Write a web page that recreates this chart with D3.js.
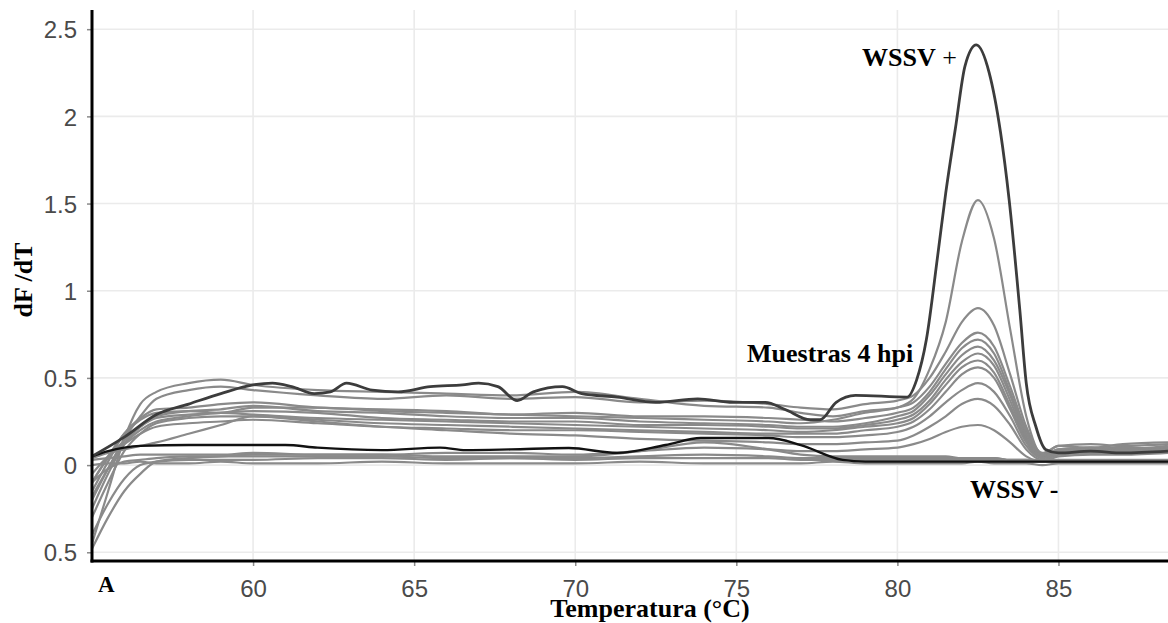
<!DOCTYPE html>
<html>
<head>
<meta charset="utf-8">
<script src="https://cdn.jsdelivr.net/npm/d3@7"></script>
<style>
  html, body { margin: 0; padding: 0; background: #ffffff; }
  svg { display: block; }
</style>
</head>
<body>
<svg id="chart" width="1168" height="623"></svg>
<script>
// ---------- DATA ----------
const xTicks = [60, 65, 70, 75, 80, 85];
const xTickLabels = ["60", "65", "70", "75", "80", "85"];
const yTicks = [-0.5, 0, 0.5, 1, 1.5, 2, 2.5];
const yTickLabels = ["0.5", "0", "0.5", "1", "1.5", "2", "2.5"];

const xTitle = "Temperatura (°C)";
const yTitle = "dF /dT";
const panelLabel = "A";
const labelPositive = "WSSV";
const labelSamples = "Muestras 4 hpi";
const labelNegative = "WSSV -";

// WSSV + (positive control)
const posTemps = [55, 56, 57, 58, 59, 60, 60.6, 61.2, 61.9, 62.4, 62.9, 63.7, 64.5, 65.5, 66.5, 67, 67.6, 68.2, 68.7, 69.6, 70.2, 71.3, 72.5, 73.8, 74.9, 75.9, 76.5, 77.3, 77.6, 78.1, 78.7, 80.3, 80.6, 80.9, 81.25, 81.5, 81.8, 82.1, 82.45, 82.85, 83.2, 83.47, 83.8, 84.0, 84.3, 84.6, 85, 86, 87, 88.4];
const posValues = [0.05, 0.16, 0.29, 0.35, 0.41, 0.46, 0.47, 0.45, 0.41, 0.42, 0.47, 0.43, 0.42, 0.45, 0.46, 0.47, 0.45, 0.37, 0.42, 0.45, 0.41, 0.39, 0.36, 0.38, 0.36, 0.36, 0.32, 0.26, 0.26, 0.36, 0.40, 0.39, 0.49, 0.72, 1.20, 1.56, 1.93, 2.29, 2.41, 2.25, 1.91, 1.52, 0.89, 0.47, 0.22, 0.09, 0.07, 0.08, 0.07, 0.08];

// WSSV - (negative control)
const negTemps = [55, 55.5, 56, 56.5, 58, 60, 61, 62, 64, 65.8, 66.6, 68, 69.8, 71.3, 72.8, 73.9, 75, 76, 77, 78.3, 79, 80, 82, 84, 86, 88.4];
const negValues = [0.05, 0.08, 0.10, 0.11, 0.115, 0.115, 0.115, 0.10, 0.086, 0.10, 0.086, 0.09, 0.098, 0.07, 0.115, 0.155, 0.155, 0.155, 0.115, 0.03, 0.02, 0.02, 0.02, 0.02, 0.02, 0.02];

// Samples 4 hpi (gray curves), shared temperature grid
const sampleTemps = [55, 55.5, 56, 56.5, 57, 58, 59, 60, 62, 64, 66, 68, 70, 72, 74, 76, 77, 78, 79, 80, 80.5, 81, 81.5, 82, 82.5, 83, 83.5, 84, 84.5, 85, 86, 87, 88.4];
const sample1 = [-0.10, 0.05, 0.18, 0.26, 0.30, 0.31, 0.30, 0.33, 0.33, 0.31, 0.30, 0.29, 0.28, 0.27, 0.26, 0.25, 0.24, 0.26, 0.30, 0.33, 0.38, 0.55, 0.82, 1.28, 1.52, 1.30, 0.78, 0.28, 0.06, 0.11, 0.10, 0.12, 0.13];
const sample2 = [-0.20, -0.02, 0.15, 0.28, 0.38, 0.43, 0.45, 0.43, 0.40, 0.38, 0.40, 0.38, 0.39, 0.36, 0.37, 0.35, 0.33, 0.32, 0.35, 0.37, 0.40, 0.50, 0.65, 0.82, 0.90, 0.80, 0.52, 0.22, 0.07, 0.11, 0.12, 0.11, 0.12];
const sample3 = [-0.45, -0.15, 0.15, 0.35, 0.42, 0.47, 0.49, 0.46, 0.43, 0.42, 0.41, 0.40, 0.42, 0.38, 0.34, 0.33, 0.30, 0.28, 0.31, 0.33, 0.36, 0.45, 0.58, 0.70, 0.76, 0.68, 0.45, 0.20, 0.06, 0.09, 0.10, 0.09, 0.10];
const sample4 = [-0.15, 0.02, 0.18, 0.27, 0.32, 0.33, 0.35, 0.36, 0.33, 0.32, 0.31, 0.29, 0.30, 0.28, 0.28, 0.27, 0.26, 0.25, 0.27, 0.30, 0.33, 0.42, 0.55, 0.67, 0.72, 0.64, 0.42, 0.18, 0.05, 0.08, 0.09, 0.10, 0.09];
const sample5 = [-0.25, -0.05, 0.12, 0.22, 0.28, 0.31, 0.32, 0.34, 0.31, 0.30, 0.28, 0.27, 0.27, 0.25, 0.24, 0.23, 0.22, 0.22, 0.24, 0.28, 0.31, 0.40, 0.52, 0.63, 0.68, 0.60, 0.40, 0.16, 0.05, 0.08, 0.08, 0.09, 0.10];
const sample6 = [-0.10, 0.04, 0.14, 0.22, 0.27, 0.29, 0.30, 0.31, 0.30, 0.27, 0.26, 0.25, 0.25, 0.23, 0.23, 0.22, 0.21, 0.21, 0.23, 0.26, 0.29, 0.37, 0.49, 0.59, 0.64, 0.57, 0.37, 0.15, 0.05, 0.09, 0.10, 0.09, 0.11];
const sample7 = [-0.18, -0.02, 0.12, 0.20, 0.25, 0.28, 0.30, 0.29, 0.27, 0.26, 0.25, 0.24, 0.23, 0.22, 0.21, 0.20, 0.19, 0.20, 0.22, 0.24, 0.27, 0.35, 0.46, 0.56, 0.60, 0.53, 0.34, 0.14, 0.04, 0.08, 0.09, 0.08, 0.09];
const sample8 = [-0.30, -0.10, 0.08, 0.18, 0.24, 0.27, 0.28, 0.28, 0.26, 0.24, 0.23, 0.22, 0.21, 0.20, 0.19, 0.18, 0.18, 0.18, 0.20, 0.22, 0.25, 0.32, 0.42, 0.52, 0.56, 0.50, 0.32, 0.13, 0.04, 0.07, 0.08, 0.08, 0.09];
const sample9 = [-0.05, 0.05, 0.12, 0.18, 0.22, 0.24, 0.25, 0.26, 0.24, 0.22, 0.21, 0.20, 0.20, 0.19, 0.18, 0.17, 0.16, 0.16, 0.17, 0.19, 0.22, 0.28, 0.36, 0.43, 0.47, 0.42, 0.28, 0.11, 0.04, 0.07, 0.07, 0.08, 0.08];
const sample10 = [0.04, 0.07, 0.09, 0.11, 0.13, 0.18, 0.23, 0.28, 0.25, 0.22, 0.20, 0.18, 0.17, 0.15, 0.14, 0.13, 0.12, 0.12, 0.13, 0.14, 0.17, 0.22, 0.28, 0.35, 0.38, 0.34, 0.23, 0.09, 0.03, 0.06, 0.07, 0.07, 0.08];
const sample11 = [-0.48, -0.30, -0.15, -0.05, 0.02, 0.04, 0.05, 0.06, 0.06, 0.06, 0.07, 0.07, 0.06, 0.08, 0.10, 0.09, 0.08, 0.08, 0.09, 0.10, 0.12, 0.15, 0.19, 0.22, 0.23, 0.20, 0.13, 0.05, 0.02, 0.05, 0.06, 0.06, 0.07];
const sample12 = [-0.40, -0.22, -0.08, 0.00, 0.02, 0.03, 0.03, 0.03, 0.04, 0.04, 0.03, 0.04, 0.04, 0.05, 0.06, 0.05, 0.04, 0.04, 0.04, 0.04, 0.04, 0.04, 0.04, 0.04, 0.04, 0.04, 0.03, 0.03, 0.03, 0.03, 0.03, 0.03, 0.03];
const sample13 = [0.03, 0.04, 0.05, 0.06, 0.06, 0.06, 0.06, 0.07, 0.06, 0.06, 0.05, 0.05, 0.05, 0.08, 0.13, 0.09, 0.06, 0.05, 0.05, 0.05, 0.05, 0.05, 0.05, 0.04, 0.04, 0.04, 0.03, 0.03, 0.02, 0.02, 0.02, 0.02, 0.02];
const sample14 = [0.00, 0.01, 0.01, 0.02, 0.01, 0.01, 0.02, 0.01, 0.01, 0.02, 0.01, 0.01, 0.01, 0.02, 0.01, 0.01, 0.01, 0.02, 0.01, 0.01, 0.01, 0.01, 0.01, 0.01, 0.02, 0.01, 0.01, 0.01, 0.00, 0.01, 0.01, 0.01, 0.01];
const sample15 = [-0.10, -0.02, 0.02, 0.03, 0.04, 0.05, 0.05, 0.05, 0.05, 0.05, 0.04, 0.04, 0.03, 0.04, 0.04, 0.04, 0.03, 0.03, 0.03, 0.03, 0.03, 0.03, 0.03, 0.03, 0.03, 0.03, 0.02, 0.02, 0.02, 0.02, 0.02, 0.02, 0.02];

const sampleSeries = [sample1, sample2, sample3, sample4, sample5, sample6, sample7, sample8,
                      sample9, sample10, sample11, sample12, sample13, sample14, sample15];

// ---------- LAYOUT ----------
const svg = d3.select("#chart");
const plotLeft = 92, plotRight = 1168, plotTop = 10, plotBottom = 561;

const x = d3.scaleLinear().domain([55, 88.4]).range([plotLeft, plotRight]);
const y = d3.scaleLinear().domain([-0.55, 2.61]).range([plotBottom, plotTop]);

svg.append("rect").attr("x", 0).attr("y", 0).attr("width", 1168).attr("height", 623).attr("fill", "#ffffff");

// grid
const grid = svg.append("g");
grid.selectAll("line.h").data(yTicks).join("line")
  .attr("x1", plotLeft).attr("x2", plotRight)
  .attr("y1", d => y(d)).attr("y2", d => y(d))
  .attr("stroke", "#ebebeb").attr("stroke-width", 1.6);
grid.selectAll("line.v").data(xTicks).join("line")
  .attr("x1", d => x(d)).attr("x2", d => x(d))
  .attr("y1", plotTop).attr("y2", plotBottom)
  .attr("stroke", "#ebebeb").attr("stroke-width", 1.6);

// clip
svg.append("clipPath").attr("id", "plotclip").append("rect")
  .attr("x", plotLeft).attr("y", plotTop).attr("width", plotRight - plotLeft).attr("height", plotBottom - plotTop);

const line = d3.line().curve(d3.curveMonotoneX);
const curves = svg.append("g").attr("clip-path", "url(#plotclip)");

sampleSeries.forEach(vals => {
  curves.append("path")
    .attr("d", line(sampleTemps.map((t, i) => [x(t), y(vals[i])])))
    .attr("fill", "none").attr("stroke", "#8a8a8a").attr("stroke-width", 2.2);
});

curves.append("path")
  .attr("d", line(negTemps.map((t, i) => [x(t), y(negValues[i])])))
  .attr("fill", "none").attr("stroke", "#111111").attr("stroke-width", 2.4);

curves.append("path")
  .attr("d", line(posTemps.map((t, i) => [x(t), y(posValues[i])])))
  .attr("fill", "none").attr("stroke", "#3c3c3c").attr("stroke-width", 2.8);

// axes
const tickFont = "'Liberation Sans', Arial, sans-serif";
const yAxis = svg.append("g").attr("transform", `translate(${plotLeft},0)`)
  .call(d3.axisLeft(y).tickValues(yTicks).tickFormat((d, i) => yTickLabels[i]).tickSize(5).tickPadding(10));
const xAxis = svg.append("g").attr("transform", `translate(0,${plotBottom})`)
  .call(d3.axisBottom(x).tickValues(xTicks).tickFormat((d, i) => xTickLabels[i]).tickSize(5).tickPadding(14));

[yAxis, xAxis].forEach(a => {
  a.select(".domain").remove();
  a.selectAll(".tick line").attr("stroke", "#8a8a8a").attr("stroke-width", 1.5);
  a.selectAll(".tick text").attr("fill", "#4a4a4a").style("font-family", tickFont).style("font-size", "24px");
});
yAxis.selectAll(".tick text").attr("dy", "0.36em");

// axis lines
svg.append("line").attr("x1", plotLeft).attr("x2", plotLeft).attr("y1", plotTop).attr("y2", plotBottom + 1.5)
  .attr("stroke", "#000").attr("stroke-width", 3);
svg.append("line").attr("x1", plotLeft - 1.5).attr("x2", plotRight).attr("y1", plotBottom).attr("y2", plotBottom)
  .attr("stroke", "#000").attr("stroke-width", 3);

// annotations
const serif = "'Liberation Serif', 'Times New Roman', serif";
function label(txt, xx, yy, size, anchor) {
  return svg.append("text").attr("x", xx).attr("y", yy).attr("text-anchor", anchor || "start")
    .style("font-family", serif).style("font-weight", "bold").style("font-size", size + "px")
    .attr("fill", "#000").text(txt);
}
const pos = label(labelPositive, 862, 66, 26);
pos.append("tspan").style("font-weight", "normal").text(" +");
label(labelSamples, 747, 362, 26);
label(labelNegative, 970, 498, 26);
label(xTitle, 650, 617, 26, "middle");
label(panelLabel, 98, 592, 23);
svg.append("text").attr("transform", "translate(32,280) rotate(-90)").attr("text-anchor", "middle")
  .style("font-family", serif).style("font-weight", "bold").style("font-size", "26px").text(yTitle);
</script>
</body>
</html>
